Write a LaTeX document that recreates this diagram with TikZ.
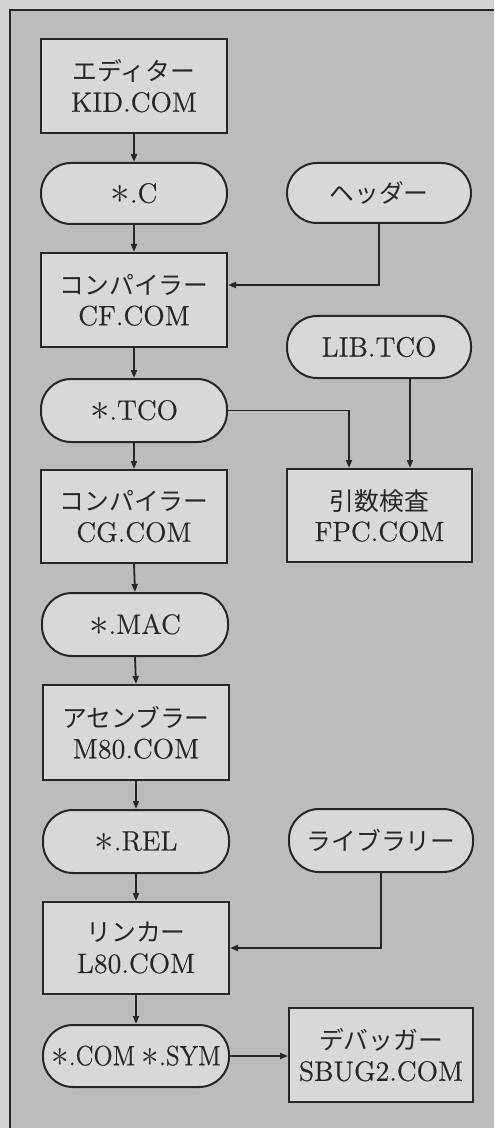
\documentclass[tikz,border=0pt]{standalone}
\usepackage{fontspec}
\setmainfont{Latin Modern Roman}[FakeBold=0.5]
\newfontfamily\jp{Noto Sans CJK JP}
\usetikzlibrary{arrows.meta,calc}
\definecolor{outerbg}{HTML}{D3D3D3}
\definecolor{innerbg}{HTML}{BCBCBC}
\definecolor{boxfill}{HTML}{D8D8D8}
\definecolor{ink}{HTML}{262626}
\newcommand{\myast}{\raisebox{-0.6pt}{\scalebox{1.35}{$\ast$}}}
\begin{document}
\begin{tikzpicture}[x=0.5pt,y=-0.5pt,
  box/.style={draw=ink, line width=1pt, fill=boxfill, text=ink, inner sep=0pt,
    align=center, font=\fontsize{14}{15.5}\selectfont},
  prog/.style={box, rectangle},
  file/.style={box, rounded corners=15pt},
  arr/.style={draw=ink, line width=0.9pt, -{Triangle[length=4pt,width=3pt]}},
  frame/.style={draw=ink, line width=1pt}
]
\useasboundingbox (0,0) rectangle (494,1128);
\fill[outerbg] (0,0) rectangle (494,1128);
\fill[innerbg] (10,10) rectangle (494,1128);
\draw[frame] (10,1128) -- (10,10) -- (494,10);

% left column
\node[prog, minimum width=93pt, minimum height=47pt] (kid) at (134,86) {{\jp\fontsize{12.4}{15.5}\selectfont エディター}\\KID.COM};
\node[file, minimum width=93pt, minimum height=30.5pt] (c) at (134,193.5) {\myast.C};
\node[prog, minimum width=93pt, minimum height=47pt] (cf) at (134,300) {{\jp\fontsize{12.4}{15.5}\selectfont コンパイラー}\\CF.COM};
\node[file, minimum width=93pt, minimum height=31.5pt] (tco) at (134,410.5) {\myast.TCO};
\node[prog, minimum width=93pt, minimum height=46.5pt] (cg) at (134,516.5) {{\jp\fontsize{12.4}{15.5}\selectfont コンパイラー}\\CG.COM};
\node[file, minimum width=93pt, minimum height=31.5pt] (mac) at (135,624.5) {\myast.MAC};
\node[prog, minimum width=93pt, minimum height=47.5pt] (m80) at (136,732.5) {{\jp\fontsize{12.4}{15.5}\selectfont アセンブラー}\\M80.COM};
\node[file, minimum width=93pt, minimum height=31.5pt] (rel) at (136,841.5) {\myast.REL};
\node[prog, minimum width=93pt, minimum height=46pt] (l80) at (136,948) {{\jp\fontsize{12.4}{15.5}\selectfont リンカー}\\L80.COM};
\node[file, minimum width=93pt, minimum height=31pt] (sym) at (136,1056) {\scalebox{0.9}[1]{\myast.COM\hspace{0.25em}\myast.SYM}};

% right column
\node[file, minimum width=92pt, minimum height=30pt] (hdr) at (379,193) {\jp\fontsize{12.4}{15.5}\selectfont ヘッダー};
\node[file, minimum width=92pt, minimum height=31pt] (lib) at (379,347) {LIB.TCO};
\node[prog, minimum width=92.5pt, minimum height=46.5pt] (fpc) at (379.5,515.5) {{\jp\fontsize{12.4}{15.5}\selectfont 引数検査}\\FPC.COM};
\node[file, minimum width=92pt, minimum height=31.5pt] (lib2) at (381,840.5) {\jp\fontsize{12.4}{15.5}\selectfont ライブラリー};
\node[prog, minimum width=92pt, minimum height=47pt] (sbug) at (381,1055) {{\jp\fontsize{12.4}{15.5}\selectfont デバッガー}\\SBUG2.COM};

% connectors
\draw[arr] (kid.south) -- (c.north);
\draw[arr] (c.south) -- (cf.north);
\draw[arr] (hdr.south) |- ([yshift=7.5pt]cf.east);
\draw[arr] (cf.south) -- (tco.north);
\draw[arr] (tco.south) -- (cg.north);
\draw[arr] (tco.east) -| ([xshift=-15.25pt]fpc.north);
\draw[arr] ([xshift=15.5pt]lib.south) -- ([xshift=15.5pt]lib.south |- fpc.north);
\draw[arr] (cg.south) -- (mac.north);
\draw[arr] (mac.south) -- (m80.north);
\draw[arr] (m80.south) -- (rel.north);
\draw[arr] (rel.south) -- (l80.north);
\draw[arr] (lib2.south) |- (l80.east);
\draw[arr] (l80.south) -- (sym.north);
\draw[arr] (sym.east) -- (sym.east -| sbug.west);
\end{tikzpicture}
\end{document}
